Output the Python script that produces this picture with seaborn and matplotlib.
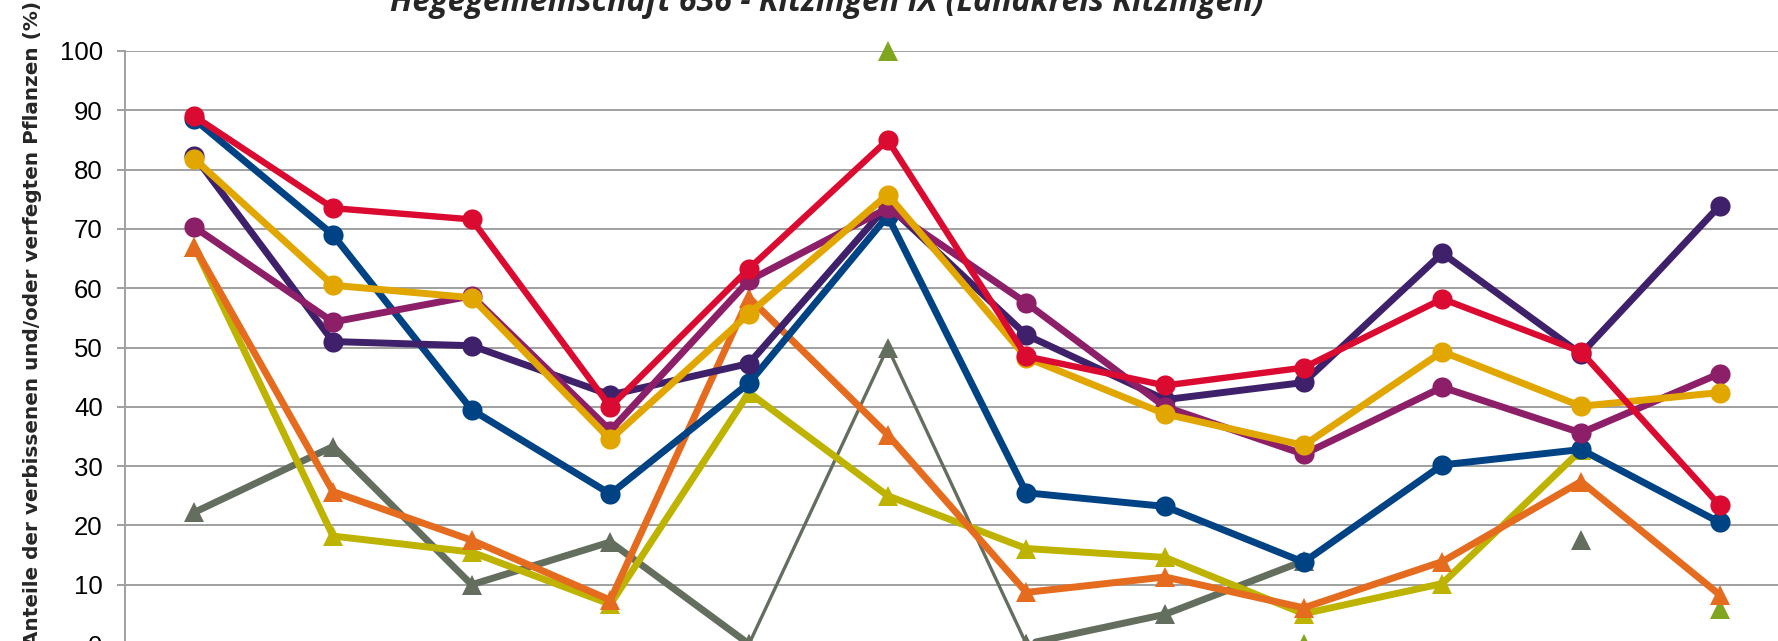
import numpy as np
import pandas as pd
import matplotlib
matplotlib.use("Agg")
import matplotlib.pyplot as plt
import seaborn as sns

nan = np.nan
categories = list(range(12))

# series values (percent), NaN = no value
blue = [88.5, 69.0, 39.5, 25.3, 44.0, 72.2, 25.5, 23.2, 13.8, 30.2, 32.8, 20.5]
red = [89.0, 73.5, 71.6, 40.0, 63.3, 85.0, 48.5, 43.6, 46.6, 58.2, 49.3, 23.4]
dark_purple = [82.3, 51.0, 50.3, 42.0, 47.3, 74.0, 52.1, 41.2, 44.1, 65.9, 48.9, 73.9]
magenta = [70.3, 54.3, 58.7, 36.0, 61.3, 73.5, 57.5, 40.0, 32.0, 43.3, 35.6, 45.6]
gold = [81.8, 60.5, 58.4, 34.5, 55.7, 75.8, 48.3, 38.8, 33.5, 49.3, 40.1, 42.4]
orange = [67.0, 25.7, 17.5, 7.4, 58.4, 35.3, 8.7, 11.3, 6.1, 13.9, 27.4, 8.3]
olive = [67.0, 18.2, 15.5, 6.7, 42.4, 25.0, 16.1, 14.6, 5.1, 10.2, 32.7, nan]
green = [nan, nan, nan, nan, nan, 100.0, nan, nan, 0.0, nan, nan, 5.9]
grey = [22.2, 33.3, 10.0, 17.2, 0.0, nan, 0.0, 5.0, 14.0, nan, 17.6, nan]
grey_thin = [nan, nan, nan, nan, 0.0, 50.0, 0.0, nan, nan, nan, nan, nan]

title = "Hegegemeinschaft 636 - Kitzingen IX (Landkreis Kitzingen)"
ylabel = "Anteile der verbissenen und/oder verfegten Pflanzen (%)"

# name, values, colour, marker, line width, marker size
series = [
    ("grey_thin", grey_thin, "#646E5E", "^", 2.4, 14),
    ("grey", grey, "#646E5E", "^", 5.0, 14),
    ("olive", olive, "#BDB300", "^", 5.0, 14),
    ("green", green, "#80A51F", "^", 5.0, 14),
    ("orange", orange, "#E56B1F", "^", 5.0, 14),
    ("blue", blue, "#004384", "o", 5.0, 14.5),
    ("dark_purple", dark_purple, "#3E216A", "o", 5.0, 14.5),
    ("magenta", magenta, "#8D1F68", "o", 5.0, 14.5),
    ("gold", gold, "#E2A600", "o", 5.0, 14.5),
    ("red", red, "#DA0A30", "o", 4.6, 14.5),
]

sns.set_style("white")
plt.rcParams["font.family"] = ["Liberation Sans", "DejaVu Sans"]

fig = plt.figure(figsize=(17.78, 6.41), dpi=100)
ax = fig.add_axes([125 / 1778, -3 / 641, 1664 / 1778, 593 / 641])

for name, vals, col, mk, lw, ms in series:
    df = pd.DataFrame({"x": categories, "y": vals})
    # split into contiguous runs so gaps stay gaps
    run = df["y"].isna().cumsum()
    df = df.assign(run=run).dropna()
    for _, part in df.groupby("run"):
        sns.lineplot(data=part, x="x", y="y", ax=ax, color=col, lw=lw,
                     marker=mk, markersize=ms, markeredgecolor=col,
                     markeredgewidth=0, estimator=None, sort=False,
                     solid_joinstyle="round", clip_on=False)

ax.set_xlim(-0.5, 11.5)
ax.set_ylim(0, 100)
ax.set_yticks(range(0, 101, 10))
ax.set_xticks([])
ax.set_xlabel("")
ax.set_ylabel("")
ax.yaxis.grid(True, color="#A0A0A0", lw=1.4)
ax.set_axisbelow(True)
for s in ["top", "right", "bottom"]:
    ax.spines[s].set_visible(False)
ax.spines["left"].set_color("#A0A0A0")
ax.spines["left"].set_linewidth(1.4)
ax.tick_params(axis="y", which="major", left=True, length=6, width=1.4,
               color="#A0A0A0", pad=10, labelsize=18.5, labelcolor="black")

fig.text(827 / 1778, 1 - 11 / 641, title, ha="center", va="baseline",
         fontsize=23, fontweight="bold", fontstyle="italic",
         family=["Open Sans", "DejaVu Sans"])
fig.text(33 / 1778, 1 - 323 / 641, ylabel, ha="center", va="center",
         rotation=90, fontsize=14.4, fontweight="bold",
         family=["DejaVu Sans"])

fig.savefig("out.png", dpi=100)
